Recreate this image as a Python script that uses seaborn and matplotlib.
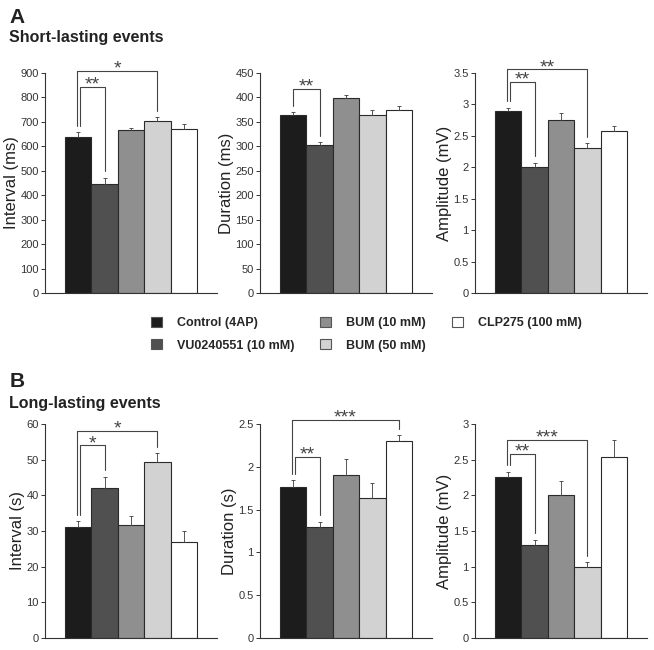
import numpy as np
import pandas as pd
import matplotlib
matplotlib.use("Agg")
import matplotlib.pyplot as plt
from matplotlib.patches import Patch
import seaborn as sns

# conditions (legend order)
conditions = ["Control (4AP)", "VU0240551 (10 mM)", "BUM (10 mM)", "BUM (50 mM)", "CLP275 (100 mM)"]
bar_colors = ["#1c1c1c", "#505050", "#8f8f8f", "#d2d2d2", "#ffffff"]

# A - short-lasting events (mean, sem)
short_interval = [640, 447, 665, 703, 672]
short_interval_err = [18, 25, 12, 15, 20]
short_duration = [364, 303, 398, 365, 375]
short_duration_err = [6, 5, 8, 10, 8]
short_amplitude = [2.90, 2.00, 2.75, 2.30, 2.58]
short_amplitude_err = [0.05, 0.07, 0.12, 0.08, 0.07]

# B - long-lasting events (mean, sem)
long_interval = [31.0, 42.0, 31.7, 49.3, 27.0]
long_interval_err = [1.8, 3.2, 2.5, 2.5, 3.0]
long_duration = [1.76, 1.30, 1.90, 1.63, 2.30]
long_duration_err = [0.08, 0.06, 0.19, 0.18, 0.07]
long_amplitude = [2.26, 1.31, 2.01, 0.99, 2.54]
long_amplitude_err = [0.07, 0.07, 0.19, 0.07, 0.24]

# significance brackets: (bar i, bar j, stars, bracket height)
short_interval_sig = [(0, 1, "**", 843), (0, 3, "*", 908)]
short_duration_sig = [(0, 1, "**", 417)]
short_amplitude_sig = [(0, 1, "**", 3.36), (0, 3, "**", 3.56)]
long_interval_sig = [(0, 1, "*", 54.0), (0, 3, "*", 58.1)]
long_duration_sig = [(0, 1, "**", 2.12), (0, 4, "***", 2.55)]
long_amplitude_sig = [(0, 1, "**", 2.58), (0, 3, "***", 2.78)]

sns.set_style("ticks")
plt.rcParams["font.family"] = ["Liberation Sans", "DejaVu Sans"]
dark = "#333333"

W, H = 654, 650
fig = plt.figure(figsize=(6.54, 6.5), dpi=100)


def px_axes(left, bottom, right, top):
    return fig.add_axes([left / W, 1 - bottom / H, (right - left) / W, (bottom - top) / H])


def draw_panel(ax, means, errs, sig, ymax, ystep, ylabel):
    df = pd.DataFrame({"cond": conditions, "val": means})
    sns.barplot(data=df, x="cond", y="val", hue="cond", palette=bar_colors,
                width=1.0, edgecolor="#2a2a2a", linewidth=0.8, errorbar=None,
                legend=False, ax=ax)
    x = np.arange(len(means))
    ax.errorbar(x, means, yerr=[np.zeros(len(errs)), errs], fmt="none",
                ecolor="#3a3a3a", elinewidth=0.6, capsize=1.5, capthick=0.6)
    ax.set_xlim(-1.25, 5.25)
    ax.set_ylim(0, ymax)
    ax.set_yticks(np.arange(0, ymax + ystep / 2, ystep))
    ax.yaxis.set_major_formatter(matplotlib.ticker.FuncFormatter(lambda v, p: f"{v:g}"))
    ax.set_xticks([])
    ax.set_xlabel("")
    ax.set_ylabel(ylabel, fontsize=12, color="#222222", labelpad=1)
    ax.tick_params(axis="y", labelsize=8, colors=dark, length=3, width=0.7, pad=1.5)
    for side in ["top", "right"]:
        ax.spines[side].set_visible(False)
    for side in ["left", "bottom"]:
        ax.spines[side].set_color(dark)
        ax.spines[side].set_linewidth(0.8)

    gap = 0.03 * ymax
    dxs = [0.08, -0.04] if len(sig) > 1 else [0.0]
    for k, (i, j, label, h) in enumerate(sig):
        xi = i + dxs[k]
        yi = means[i] + errs[i] + gap
        yj = means[j] + errs[j] + gap
        ax.plot([xi, xi, j, j], [yi, h, h, yj], color="#444444", lw=0.8,
                clip_on=False, zorder=5)
        ax.annotate(label, ((xi + j) / 2, h), xytext=(0, -2), textcoords="offset points",
                    ha="center", va="baseline", fontsize=14, color="#444444",
                    annotation_clip=False)


col_lefts = [45, 260, 475]
ax_w = 172

row_a = (293, 73)
row_b = (638, 424)

panels_a = [
    (short_interval, short_interval_err, short_interval_sig, 900, 100, "Interval (ms)"),
    (short_duration, short_duration_err, short_duration_sig, 450, 50, "Duration (ms)"),
    (short_amplitude, short_amplitude_err, short_amplitude_sig, 3.5, 0.5, "Amplitude (mV)"),
]
panels_b = [
    (long_interval, long_interval_err, long_interval_sig, 60, 10, "Interval (s)"),
    (long_duration, long_duration_err, long_duration_sig, 2.5, 0.5, "Duration (s)"),
    (long_amplitude, long_amplitude_err, long_amplitude_sig, 3, 0.5, "Amplitude (mV)"),
]

for (bottom, top), panels in [(row_a, panels_a), (row_b, panels_b)]:
    for left, p in zip(col_lefts, panels):
        ax = px_axes(left, bottom, left + ax_w, top)
        draw_panel(ax, *p)

# panel titles
fig.text(9 / W, 1 - 23 / H, "A", fontsize=15, weight="bold", color="#222222", va="baseline")
fig.text(9 / W, 1 - 42 / H, "Short-lasting events", fontsize=11.5, weight="bold",
         color="#222222", va="baseline")
fig.text(10 / W, 1 - 387 / H, "B", fontsize=15, weight="bold", color="#222222", va="baseline")
fig.text(9 / W, 1 - 408 / H, "Long-lasting events", fontsize=11.5, weight="bold",
         color="#222222", va="baseline")

# legend
handles = [Patch(facecolor=c, edgecolor="#555555", linewidth=0.8) for c in bar_colors]
fig.legend(handles, conditions, ncol=3, loc="upper left",
           bbox_to_anchor=(151 / W, 1 - 317 / H), frameon=False,
           prop={"weight": "bold", "size": 9}, handlelength=0.85, handleheight=0.85,
           handletextpad=1.2, columnspacing=2.1, labelspacing=0.8, borderpad=0,
           borderaxespad=0)

fig.savefig("out.png", dpi=100)
